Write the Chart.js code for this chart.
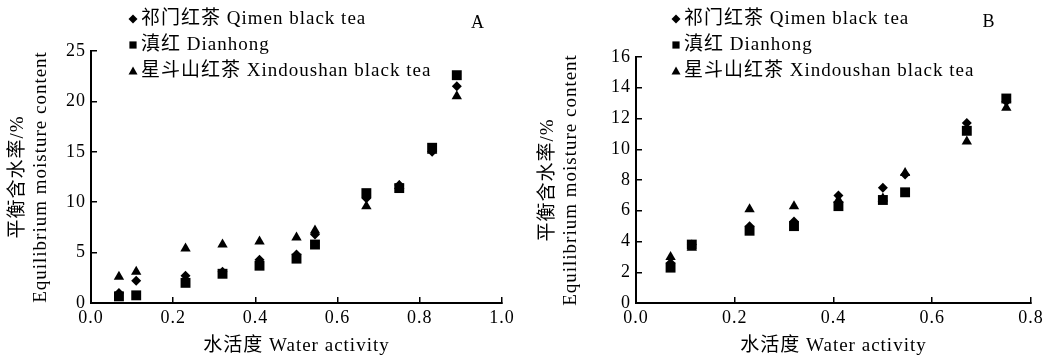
<!DOCTYPE html>
<html>
<head>
<meta charset="utf-8">
<script src="https://cdn.jsdelivr.net/npm/chart.js@4.4.1/dist/chart.umd.min.js"></script>
<style>
  html, body { margin: 0; padding: 0; background: #fff; }
  #wrap { position: relative; width: 1063px; height: 357px; }
  .panel { position: absolute; top: 0; height: 357px; }
  #pa { left: 0; width: 530px; }
  #pb { left: 530px; width: 533px; }
</style>
</head>
<body>
<div id="wrap">
  <div class="panel" id="pa"><canvas id="chartA"></canvas></div>
  <div class="panel" id="pb"><canvas id="chartB"></canvas></div>
</div>
<script>
  // Series names
  var seriesNames = ["祁门红茶 Qimen black tea", "滇红 Dianhong", "星斗山红茶 Xindoushan black tea"];
  var seriesStyles = ["rectRot", "rect", "triangle"];

  // Panel A
  var awA = [0.068, 0.11, 0.23, 0.32, 0.41, 0.50, 0.545, 0.67, 0.75, 0.83, 0.89];
  var qimenA = [1.0, 2.2, 2.7, 3.1, 4.3, 4.8, 6.8, 10.4, 11.7, 15.0, 21.5];
  var dianhongA = [0.66, 0.76, 2.0, 2.9, 3.7, 4.4, 5.8, 10.9, 11.4, 15.4, 22.6];
  var xindouA = [2.6, 3.1, 5.4, 5.8, 6.1, 6.5, 7.2, 9.6, 11.6, 15.1, 20.5];

  // Panel B
  var awB = [0.07, 0.113, 0.23, 0.32, 0.41, 0.50, 0.545, 0.67, 0.75];
  var qimenB = [2.6, 3.8, 5.0, 5.3, 7.0, 7.5, 8.35, 11.7, 13.1];
  var dianhongB = [2.3, 3.8, 4.7, 5.0, 6.3, 6.7, 7.2, 11.2, 13.3];
  var xindouB = [3.0, 3.6, 6.1, 6.3, 6.7, 6.8, 8.45, 10.5, 12.7];

  var xTitle = "水活度 Water activity";
  var yTitle = ["平衡含水率/%", "Equilibrium moisture content"];

  var FONT = "'Liberation Serif', 'Noto Sans CJK SC', serif";
  Chart.defaults.font.family = FONT;
  Chart.defaults.color = "#000";

  function pts(xs, ys) {
    return xs.map(function (x, i) { return { x: x, y: ys[i] }; });
  }

  // draw small marker shapes for the legend
  function marker(ctx, style, x, y, r) {
    ctx.beginPath();
    if (style === "rectRot") {
      ctx.moveTo(x, y - r); ctx.lineTo(x + r, y); ctx.lineTo(x, y + r); ctx.lineTo(x - r, y);
    } else if (style === "rect") {
      ctx.rect(x - r * 0.8, y - r * 0.8, r * 1.6, r * 1.6);
    } else {
      ctx.moveTo(x, y - r); ctx.lineTo(x + r, y + r * 0.75); ctx.lineTo(x - r, y + r * 0.75);
    }
    ctx.closePath();
    ctx.fill();
  }

  // the printed figure has a slightly spaced type
  var spacing = {
    id: "spacing",
    beforeUpdate: function (chart) { chart.ctx.letterSpacing = "1px"; },
    beforeDraw: function (chart) { chart.ctx.letterSpacing = "1px"; },
  };

  // Legend + panel letter
  var sideLegend = {
    id: "sideLegend",
    afterDraw: function (chart, args, o) {
      var ctx = chart.ctx;
      ctx.save();
      ctx.letterSpacing = "1px";
      ctx.fillStyle = "#000";
      ctx.font = "19px " + FONT;
      ctx.textBaseline = "middle";
      chart.data.datasets.forEach(function (ds, i) {
        var y = o.y0 + i * o.dy;
        marker(ctx, ds.pointStyle, o.x, y, 4.5);
        ctx.fillText(ds.label, o.x + 8, y);
      });
      ctx.font = "18px " + FONT;
      ctx.textAlign = "center";
      ctx.fillText(o.letter, o.lx, o.ly);
      ctx.restore();
    }
  };

  function makeChart(id, xs, ys, xMax, yMax, yStep, yAxisW, pad, leg) {
    var sizes = [5, 7, 6];
    return new Chart(document.getElementById(id), {
      type: "scatter",
      data: {
        datasets: ys.map(function (arr, i) {
          return {
            label: seriesNames[i],
            data: pts(xs, arr),
            pointStyle: seriesStyles[i],
            pointRadius: sizes[i],
            pointHoverRadius: sizes[i],
            backgroundColor: "#000",
            borderColor: "#000",
            borderWidth: 0,
          };
        }),
      },
      options: {
        responsive: true,
        maintainAspectRatio: false,
        animation: false,
        layout: { padding: pad },
        plugins: {
          legend: { display: false },
          tooltip: { enabled: false },
          sideLegend: leg,
        },
        scales: {
          x: {
            type: "linear",
            min: 0,
            max: xMax,
            afterFit: function (s) { s.height = 54; },
            ticks: {
              stepSize: 0.2,
              padding: 10,
              font: { size: 18 },
              callback: function (v) { return v.toFixed(1); },
            },
            grid: { drawOnChartArea: false, tickLength: -6, color: "#000", lineWidth: 1.5 },
            border: { color: "#000", width: 2 },
            title: { display: true, text: xTitle, font: { size: 19 }, padding: { top: 0, bottom: 0 } },
          },
          y: {
            min: 0,
            max: yMax,
            afterFit: function (s) { s.width = yAxisW; },
            ticks: { stepSize: yStep, padding: 11, font: { size: 18 } },
            grid: { drawOnChartArea: false, tickLength: -6, color: "#000", lineWidth: 1.5 },
            border: { color: "#000", width: 2 },
            title: { display: true, text: yTitle, font: { size: 19 }, padding: { top: 7, bottom: 0 } },
          },
        },
      },
      plugins: [spacing, sideLegend],
    });
  }

  makeChart("chartA", awA, [qimenA, dianhongA, xindouA], 1.0, 25, 5, 91,
    { left: 0, right: 28, top: 51, bottom: 0 },
    { x: 133, y0: 19, dy: 26, letter: "A", lx: 478, ly: 23 });

  makeChart("chartB", awB, [qimenB, dianhongB, xindouB], 0.8, 16, 2, 106,
    { left: 0, right: 32, top: 57, bottom: 0 },
    { x: 146, y0: 19, dy: 26, letter: "B", lx: 459, ly: 22 });
</script>
</body>
</html>
